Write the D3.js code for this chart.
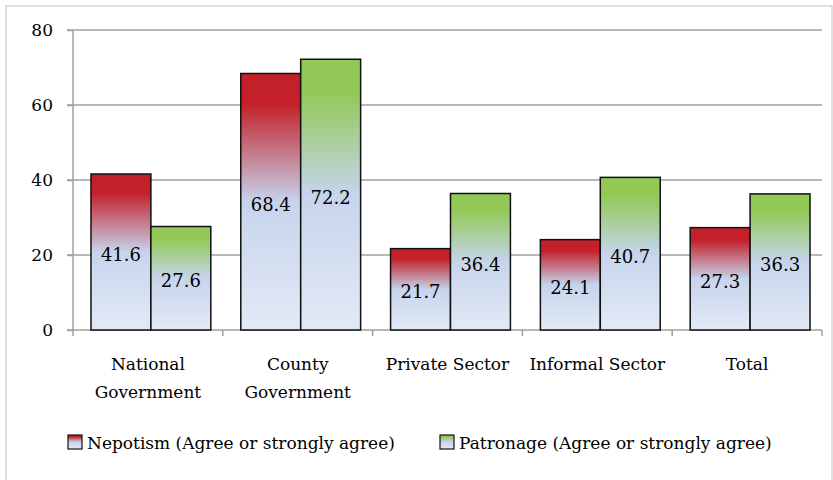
<!DOCTYPE html>
<html><head><meta charset="utf-8">
<script src="https://cdn.jsdelivr.net/npm/d3@7"></script>
<style>body{margin:0;background:#fff}svg{display:block}text{font-family:"DejaVu Serif",serif}</style>
</head><body><svg id="c" width="833" height="480"></svg>
<script>
const categories = [["National","Government"],["County","Government"],["Private Sector"],["Informal Sector"],["Total"]];
const seriesNames = ["Nepotism (Agree or strongly agree)","Patronage (Agree or strongly agree)"];
const nepotism = [41.6, 68.4, 21.7, 24.1, 27.3];
const patronage = [27.6, 72.2, 36.4, 40.7, 36.3];
const yTicks = [0,20,40,60,80];

const svg = d3.select("#c");
const defs = svg.append("defs");
function grad(id, top){
  const g = defs.append("linearGradient").attr("id",id).attr("x1",0).attr("y1",0).attr("x2",0).attr("y2",1);
  g.append("stop").attr("offset","0%").attr("stop-color",top);
  g.append("stop").attr("offset","12%").attr("stop-color",top);
  g.append("stop").attr("offset","50%").attr("stop-color","#c6d4ec");
  g.append("stop").attr("offset","100%").attr("stop-color","#e3eaf6");
}
grad("gRed","#c3202a");
grad("gGreen","#92c956");

svg.append("rect").attr("x",6).attr("y",6).attr("width",826).attr("height",490)
  .attr("fill","#fff").attr("stroke","#d6d6d6").attr("stroke-width",1.5);

const x0 = d3.scaleBand().domain(d3.range(categories.length)).range([73,822]).paddingInner(0).paddingOuter(0);
const y = d3.scaleLinear().domain([0,80]).range([330,30]);
const x1 = d3.scaleBand().domain([0,1]).range([0,x0.bandwidth()]).paddingOuter(0.25).align(0.6);

// gridlines
svg.append("g").selectAll("line").data(yTicks.filter(d=>d>0)).join("line")
  .attr("x1",67).attr("x2",822).attr("y1",d=>y(d)).attr("y2",d=>y(d))
  .attr("stroke","#a0a0a0").attr("stroke-width",1.5);

const yAxis = svg.append("g").attr("transform","translate(73,0)")
  .call(d3.axisLeft(y).tickValues(yTicks).tickSize(6).tickPadding(14));
yAxis.select(".domain").attr("stroke","#a0a0a0").attr("stroke-width",1.5).attr("d","M0,"+y(80)+"V"+y(0));
yAxis.selectAll(".tick line").attr("stroke","#a0a0a0").attr("stroke-width",1.5);
yAxis.selectAll(".tick text").attr("font-size",17).attr("fill","#000").attr("font-family","DejaVu Serif");

// x axis line and ticks
const xg = svg.append("g");
xg.append("line").attr("x1",67).attr("x2",822).attr("y1",y(0)).attr("y2",y(0)).attr("stroke","#a0a0a0").attr("stroke-width",1.5);
const bounds = d3.range(categories.length+1).map(i=> i<categories.length ? x0(i) : x0(categories.length-1)+x0.bandwidth());
xg.selectAll(".bt").data(bounds).join("line").attr("class","bt")
  .attr("x1",d=>d).attr("x2",d=>d).attr("y1",y(0)).attr("y2",y(0)+6)
  .attr("stroke","#a0a0a0").attr("stroke-width",1.5);

const data = categories.map((c,i)=>({i, vals:[nepotism[i],patronage[i]]}));
const groups = svg.append("g").selectAll("g").data(data).join("g")
  .attr("transform",d=>`translate(${x0(d.i)},0)`);
groups.selectAll("rect").data(d=>d.vals.map((v,k)=>({v,k}))).join("rect")
  .attr("x",d=>x1(d.k)).attr("width",x1.bandwidth())
  .attr("y",d=>y(d.v)).attr("height",d=>y(0)-y(d.v))
  .attr("fill",d=>d.k===0?"url(#gRed)":"url(#gGreen)")
  .attr("stroke","#111").attr("stroke-width",1.5);
groups.selectAll("text.val").data(d=>d.vals.map((v,k)=>({v,k}))).join("text").attr("class","val")
  .attr("x",d=>x1(d.k)+x1.bandwidth()/2).attr("y",d=>(y(d.v)+y(0))/2)
  .attr("dy","0.5em").attr("text-anchor","middle").attr("font-size",18).attr("fill","#000")
  .text(d=>d.v.toFixed(1));

// category labels
svg.append("g").selectAll("text").data(categories).join("text")
  .attr("x",(d,i)=>x0(i)+x0.bandwidth()/2).attr("y",370)
  .attr("text-anchor","middle").attr("font-size",17).attr("fill","#000")
  .selectAll("tspan").data(d=>d).join("tspan")
  .attr("x",function(){return this.parentNode.getAttribute("x");})
  .attr("dy",(d,j)=>j===0?0:28).text(d=>d);

// legend
const legX = [68, 440];
const lg = svg.append("g").selectAll("g").data(seriesNames).join("g")
  .attr("transform",(d,i)=>`translate(${legX[i]},435)`);
lg.append("rect").attr("width",14).attr("height",14).attr("y",0)
  .attr("fill",(d,i)=>i===0?"url(#gRed)":"url(#gGreen)").attr("stroke","#111").attr("stroke-width",1.2);
lg.append("text").attr("x",19).attr("y",14).attr("font-size",17).attr("fill","#000").text(d=>d);
</script></body></html>
